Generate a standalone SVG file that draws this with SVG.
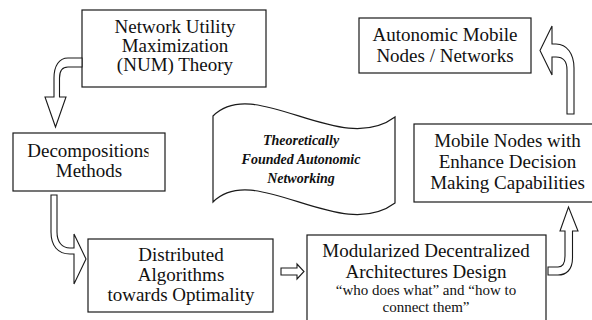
<svg xmlns="http://www.w3.org/2000/svg" width="592" height="320" viewBox="0 0 592 320">
<style>
.box{fill:#fff;stroke:#1a1a1a;stroke-width:1.2}
text{font-family:Liberation Serif,Times New Roman,Times,DejaVu Serif,serif;fill:#111;text-anchor:middle}
.t{font-size:19px}
.s{font-size:15px}
.w{font-size:14px;font-weight:bold;font-style:italic}
.arr{fill:#fff;stroke:#1a1a1a;stroke-width:1.1;stroke-linejoin:miter}
</style>
<defs>
<clipPath id="clipDec"><rect x="13" y="133" width="135.5" height="58"/></clipPath>
</defs>
<rect width="592" height="320" fill="#fff"/>
<g id="num">
<rect class="box" x="82" y="10" width="184" height="77"/>
<text class="t" x="175" y="33">Network Utility</text>
<text class="t" x="175" y="52">Maximization</text>
<text class="t" x="175" y="71">(NUM) Theory</text>
</g>
<g id="decomp">
<rect class="box" x="13" y="133" width="152" height="58"/>
<text class="t" x="89" y="157" clip-path="url(#clipDec)">Decompositions</text>
<text class="t" x="89" y="177">Methods</text>
</g>
<g id="distributed">
<rect class="box" x="88" y="239" width="185" height="73"/>
<text class="t" x="181" y="261">Distributed</text>
<text class="t" x="181" y="281">Algorithms</text>
<text class="t" x="181" y="301">towards Optimality</text>
</g>
<g id="modular">
<rect class="box" x="307" y="235" width="239" height="92"/>
<text class="t" x="426" y="257">Modularized Decentralized</text>
<text class="t" x="426" y="278">Architectures Design</text>
<text class="s" x="426" y="295">“who does what” and “how to</text>
<text class="s" x="426" y="312">connect them”</text>
</g>
<g id="mobile">
<rect class="box" x="414" y="124" width="188" height="78"/>
<text class="t" x="507.5" y="147">Mobile Nodes with</text>
<text class="t" x="507.5" y="168">Enhance Decision</text>
<text class="t" x="507.5" y="189">Making Capabilities</text>
</g>
<g id="autonomic">
<rect class="box" x="359" y="18" width="172" height="55"/>
<text class="t" x="445" y="41">Autonomic Mobile</text>
<text class="t" x="445" y="62">Nodes / Networks</text>
</g>
<g id="theory">
<path class="box" d="M213,116 C255,74 340,158 395,117 L395,203 C340,244 255,160 213,202 Z"/>
<text class="w" x="301" y="145">Theoretically</text>
<text class="w" x="301" y="164">Founded Autonomic</text>
<text class="w" x="301" y="183">Networking</text>
</g>
<g id="connectors">
<path class="arr" d="M82,58 L68,58 C59,58 54,66 54,78 L54,97 L45,97 L55.5,127 L66,97 L59.5,97 L59.5,78 C59.5,71 62,67 68,67 L82,67 Z"/>
<path class="arr" d="M51,195 L51,232 C51,246 58,254 70,254 L74,254 L74,284 L86,259 L74,234 L74,248 L70,248 C62,248 57,242 57,232 L57,195 Z"/>
<path class="arr" d="M281,268 L297,268 L297,264 L304,271.5 L297,279 L297,275 L281,275 Z"/>
<path class="arr" d="M548,267 L558,267 C563,267 565,263 565,256 L565,231 L560,231 L568.5,207 L578,231 L572.5,231 L572.5,258 C572.5,270 566,275 558,275 L548,275 Z"/>
<path class="arr" d="M567,114 L567,70 C567,61 563,57 556,57 L552,57 L552,75 L540,50.5 L552,26 L552,44 L556,44 C567,44 574,54 574,68 L574,114 Z"/>
</g>
</svg>
